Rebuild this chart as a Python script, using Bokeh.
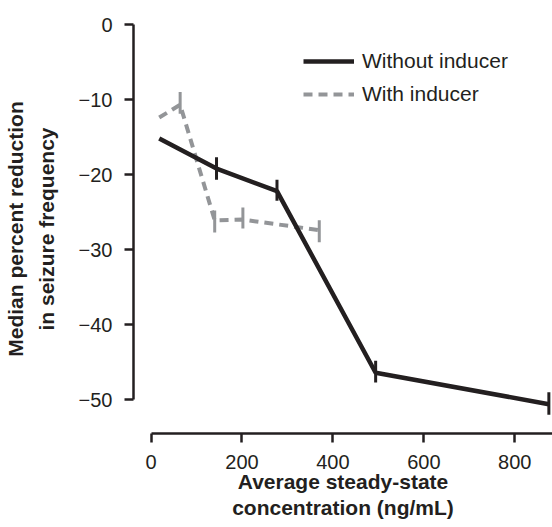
from bokeh.plotting import figure
from bokeh.models import Range1d, FixedTicker, Legend, LegendItem, ColumnDataSource
from bokeh.embed import file_html
from bokeh.resources import INLINE

# Data
x_without = [18, 144, 277, 494, 875]
y_without = [-15.2, -19.2, -22.2, -46.4, -50.6]
err_x_without = [144, 277, 494, 875]
err_lo_without = [-20.7, -23.5, -47.7, -52.0]
err_hi_without = [-17.7, -20.7, -44.8, -49.0]

x_with = [18, 64, 140, 202, 370]
y_with = [-12.4, -10.7, -26.1, -26.0, -27.4]
err_x_with = [64, 140, 202, 370]
err_lo_with = [-11.9, -27.7, -27.2, -29.0]
err_hi_with = [-9.0, -24.8, -24.4, -26.1]

x_ticks = [0, 200, 400, 600, 800]
y_ticks = [0, -10, -20, -30, -40, -50]
y_tick_labels = ["0", "\u221210", "\u221220", "\u221230", "\u221240", "\u221250"]

series_names = ["Without inducer", "With inducer"]

BLACK = "#231f20"
GRAY = "#939598"
FONT = "Liberation Sans"

p = figure(width=552, height=527, output_backend="svg", toolbar_location=None,
           x_range=Range1d(-38.6, 883), y_range=Range1d(-54.5, 0.0),
           min_border_left=129, min_border_right=0, min_border_top=24,
           min_border_bottom=94)
p.outline_line_color = None
p.xgrid.visible = False
p.ygrid.visible = False
p.background_fill_color = "white"
p.border_fill_color = "white"

src_wo = ColumnDataSource(dict(x=x_without, y=y_without))
src_w = ColumnDataSource(dict(x=x_with, y=y_with))
err_wo = ColumnDataSource(dict(x=err_x_without, lo=err_lo_without, hi=err_hi_without))
err_w = ColumnDataSource(dict(x=err_x_with, lo=err_lo_with, hi=err_hi_with))

r_w = p.line("x", "y", source=src_w, line_color=GRAY, line_width=4, line_dash="9 6")
p.segment(x0="x", y0="lo", x1="x", y1="hi", source=err_w, line_color=GRAY, line_width=3)
r_wo = p.line("x", "y", source=src_wo, line_color=BLACK, line_width=4.5)
p.segment(x0="x", y0="lo", x1="x", y1="hi", source=err_wo, line_color=BLACK, line_width=3)

for ax in (p.xaxis[0], p.yaxis[0]):
    ax.axis_line_color = BLACK
    ax.axis_line_width = 2.5
    ax.major_tick_line_color = BLACK
    ax.major_tick_line_width = 2.5
    ax.major_tick_in = 0
    ax.major_tick_out = 9
    ax.minor_tick_line_color = None
    ax.major_label_text_font = FONT
    ax.major_label_text_font_size = "20px"
    ax.major_label_text_color = BLACK
    ax.axis_label_text_font = FONT
    ax.axis_label_text_font_size = "21px"
    ax.axis_label_text_font_style = "bold"
    ax.axis_label_text_color = BLACK

p.xaxis.ticker = FixedTicker(ticks=x_ticks)
p.xaxis.bounds = (0, 883)
p.xaxis.major_label_standoff = 12
p.xaxis.axis_label = "Average steady-state\nconcentration (ng/mL)"
p.xaxis.axis_label_standoff = -2
p.xaxis.axis_label_text_line_height = 1.15

p.yaxis.ticker = FixedTicker(ticks=y_ticks)
p.yaxis.bounds = (-50, 0)
p.yaxis.major_label_overrides = {t: lab for t, lab in zip(y_ticks, y_tick_labels)}
p.yaxis.major_label_standoff = 12
p.yaxis.axis_label = "Median percent reduction\nin seizure frequency"
p.yaxis.axis_label_standoff = 18
p.yaxis.axis_label_text_line_height = 1.35

legend = Legend(items=[LegendItem(label=series_names[0], renderers=[r_wo]),
                       LegendItem(label=series_names[1], renderers=[r_w])],
                location=(170, 327), padding=0, spacing=9, glyph_width=51,
                glyph_height=24, label_height=24, label_standoff=8,
                label_text_font=FONT, label_text_font_size="21px",
                label_text_color=BLACK, border_line_color=None,
                background_fill_alpha=0)
p.add_layout(legend)

open("out.html", "w").write(file_html(p, INLINE))
